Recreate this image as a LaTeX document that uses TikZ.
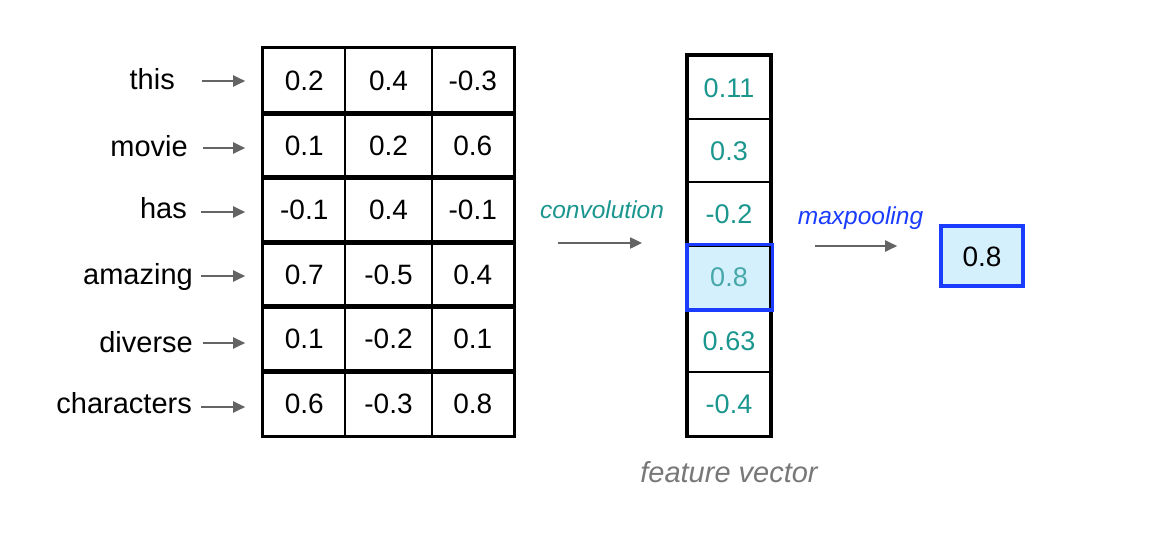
\documentclass[tikz,border=0pt]{standalone}
\usepackage{fontspec}
\setmainfont{Liberation Sans}
\usetikzlibrary{arrows.meta}
\definecolor{tealA}{RGB}{26,150,142}
\definecolor{tealB}{RGB}{70,168,168}
\definecolor{blueA}{RGB}{25,60,255}
\definecolor{fillA}{RGB}{212,240,252}
\definecolor{arrgray}{RGB}{100,100,100}
\definecolor{labgray}{RGB}{120,120,120}
\begin{document}
\begin{tikzpicture}[x=1pt,y=-1pt,
  word/.style={font=\fontsize{29}{34}\selectfont, anchor=base east, inner sep=0pt},
  cell/.style={draw=black, line width=1.6pt, minimum height=64.5pt, inner sep=0pt,
    text height=20pt, text depth=0pt, font=\fontsize{28}{34}\selectfont},
  fcell/.style={draw=black, line width=1.8pt, minimum width=82.6pt, minimum height=63.3pt, inner sep=0pt,
    text height=19.3pt, text depth=0pt, font=\fontsize{27}{34}\selectfont, text=tealA},
  thickbox/.style={draw=black, line width=3.2pt},
  arr/.style={draw=arrgray, line width=2pt, -{Triangle[length=12pt,width=11pt]}},
  oplabel/.style={font=\fontsize{24.5}{30}\selectfont\itshape, anchor=base, inner sep=0pt}
]
\useasboundingbox (0,0) rectangle (1158,552);

% embedding matrix
\foreach \r/\yc/\a/\b/\c in {1/80.85/0.2/0.4/-0.3, 2/145.35/0.1/0.2/0.6, 3/209.85/-0.1/0.4/-0.1,
                             4/274.35/0.7/-0.5/0.4, 5/338.85/0.1/-0.2/0.1, 6/403.35/0.6/-0.3/0.8}{
  \node[cell, minimum width=81.5pt] (m\r1) at (304.25,\yc) {\a};
  \node[cell, minimum width=87pt] (m\r2) at (388.5,\yc) {\b};
  \node[cell, minimum width=81.5pt] (m\r3) at (472.75,\yc) {\c};
  \draw[thickbox] (m\r1.north west) rectangle (m\r3.south east);
}

% words and arrows
\foreach \r/\xe/\yb/\xs/\ya/\w in {1/175/89/202/81/this, 2/188/156/203/148/movie, 3/187/218/201/212/has,
                                   4/193/284/201/276/amazing, 5/193/352/203/343/diverse, 6/192/413/201/407/characters}{
  \node[word] (w\r) at (\xe,\yb) {\w};
  \coordinate (s\r) at (\xs,\ya);
  \draw[arr, shorten >=17.5pt] (s\r) -- (s\r -| m\r1.west);
}

% feature vector
\node[fcell] (f1) at (729,87.35) {0.11};
\node[fcell] (f2) at (729,150.65) {0.3};
\node[fcell] (f3) at (729,213.95) {-0.2};
\node[fcell, fill=fillA, text=tealB] (f4) at (729,277.25) {0.8};
\node[fcell] (f5) at (729,340.55) {0.63};
\node[fcell] (f6) at (729,403.85) {-0.4};
\draw[thickbox, line width=3.4pt] (f1.north west) rectangle (f6.south east);
\draw[draw=blueA, line width=3.4pt] (f4.north west) rectangle ([xshift=1pt]f4.south east);
\node[font=\fontsize{29}{34}\selectfont\itshape, text=labgray, anchor=base, inner sep=0pt] (fv) at (729,482) {feature vector};

% convolution
\node[oplabel, text=tealA] (conv) at (602,218) {convolution};
\coordinate (c1) at (558,243);
\draw[arr, shorten >=44.7pt] (c1) -- (c1 -| f4.west);

% maxpooling
\node[draw=blueA, line width=3.6pt, fill=fillA, minimum width=82.4pt, minimum height=60.4pt, inner sep=0pt,
      text height=20pt, text depth=0pt, font=\fontsize{28}{34}\selectfont] (mp) at (982,256) {0.8};
\node[oplabel, text=blueA] (pool) at (860.5,224) {maxpooling};
\coordinate (p1) at (815,246);
\draw[arr, shorten >=41.8pt] (p1) -- (p1 -| mp.west);
\end{tikzpicture}
\end{document}
